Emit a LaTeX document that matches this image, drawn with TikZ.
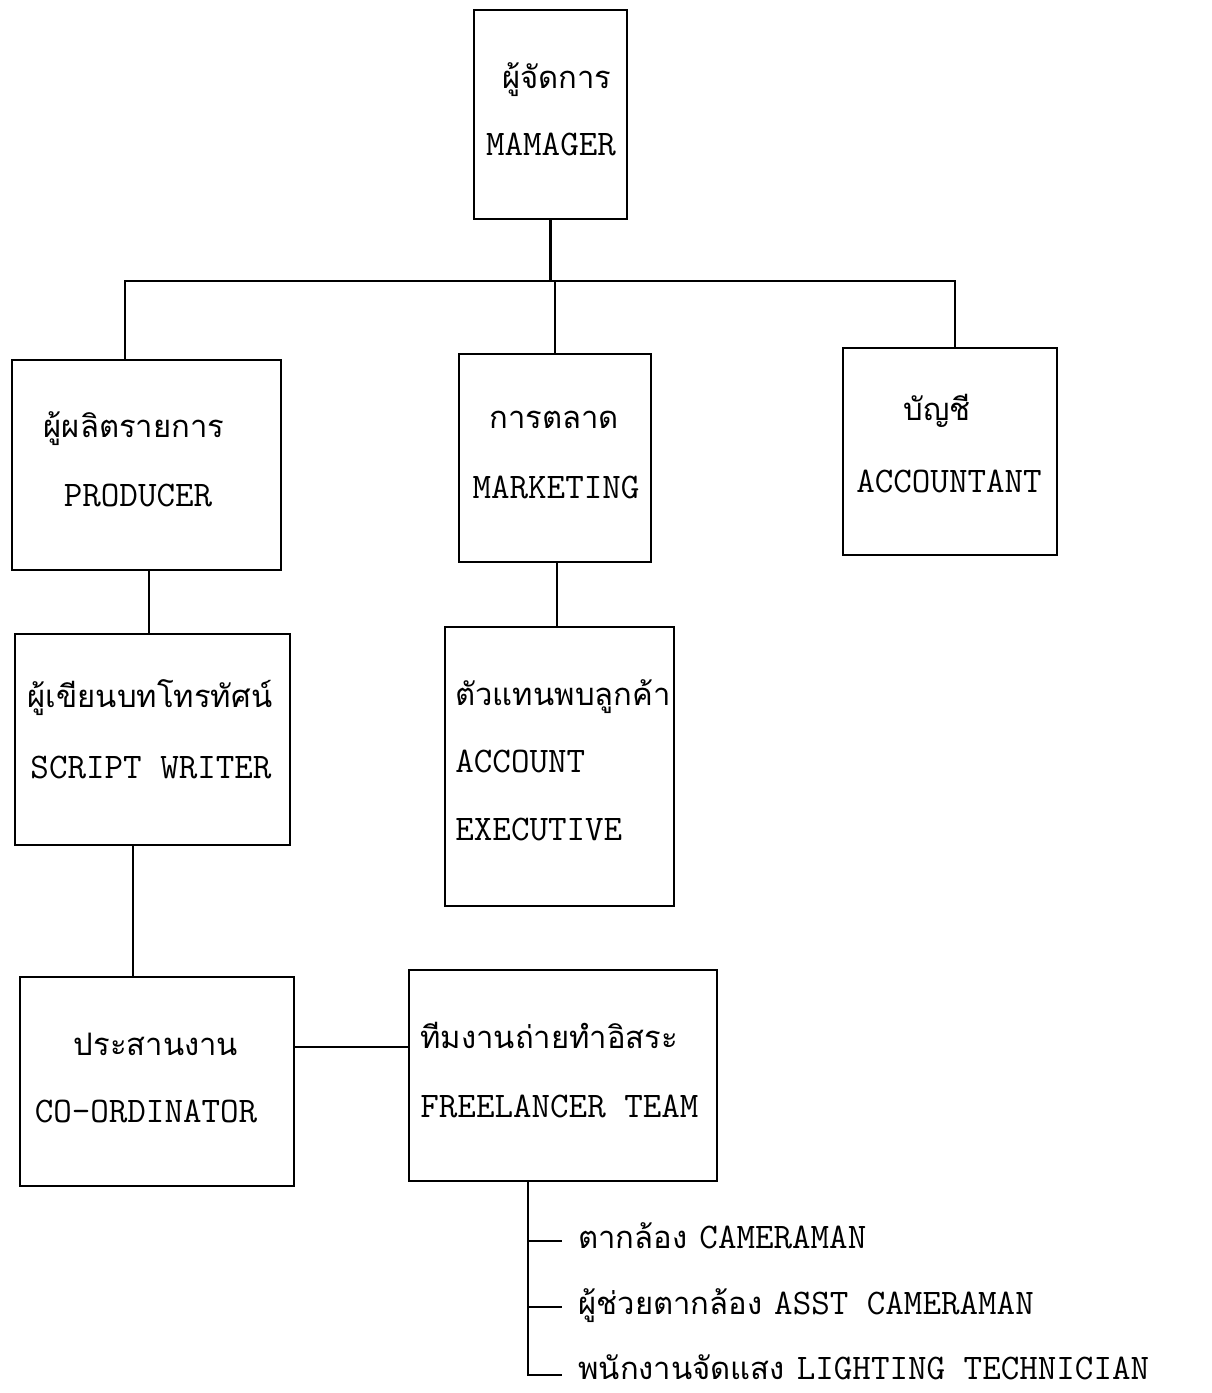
\documentclass[tikz,border=0pt]{standalone}
\usepackage{fontspec}
\newfontfamily\thai[Script=Thai]{Loma}
\newcommand\thfnt{\thai\fontsize{15.5}{18}\selectfont}
\newcommand\enfnt{\ttfamily\fontsize{18}{20}\selectfont}
\begin{document}
\begin{tikzpicture}[x=0.5pt,y=-0.5pt,
  box/.style={draw, line width=1.4pt, inner sep=0pt},
  ln/.style={line width=1.4pt},
  th/.style={font=\thfnt, inner sep=0pt},
  en/.style={font=\enfnt, inner sep=0pt},
  mix/.style={inner sep=0pt, anchor=base west}]
\useasboundingbox (0,0) rectangle (1211,1393);
% boxes
\node[box, minimum width=76.5pt, minimum height=104.5pt] (mgr) at (550.5,114.5) {};
\node[box, minimum width=134.5pt, minimum height=105pt] (prod) at (146.5,465) {};
\node[box, minimum width=96pt, minimum height=104pt] (mkt) at (555,458) {};
\node[box, minimum width=107pt, minimum height=103.5pt] (acct) at (950,451.5) {};
\node[box, minimum width=137.5pt, minimum height=105.5pt] (script) at (152.5,739.5) {};
\node[box, minimum width=114.5pt, minimum height=139.5pt] (ae) at (559.5,766.5) {};
\node[box, minimum width=137pt, minimum height=104.5pt] (coord) at (157,1081.5) {};
\node[box, minimum width=154pt, minimum height=105.5pt] (free) at (563,1075.5) {};
% texts
\node[th, anchor=base] (t1) at (557,88) {ผู้จัดการ};
\node[en, anchor=base] (t2) at (551,155) {MAMAGER};
\node[th, anchor=base] (t3) at (134,437) {ผู้ผลิตรายการ};
\node[en, anchor=base] (t4) at (138,506) {PRODUCER};
\node[th, anchor=base] (t5) at (554,428) {การตลาด};
\node[en, anchor=base] (t6) at (556,498) {MARKETING};
\node[th, anchor=base] (t7) at (937,420) {บัญชี};
\node[en, anchor=base] (t8) at (949,492) {ACCOUNTANT};
\node[th, anchor=base] (t9) at (150,707) {ผู้เขียนบทโทรทัศน์};
\node[en, anchor=base] (t10) at (151,778) {SCRIPT WRITER};
\node[th, anchor=base west] (t11) at (455,705) {ตัวแทนพบลูกค้า};
\node[en, anchor=base west] (t12) at (455,772) {ACCOUNT};
\node[en, anchor=base west] (t13) at (455,840) {EXECUTIVE};
\node[th, anchor=base] (t14) at (156,1055) {ประสานงาน};
\node[en, anchor=base] (t15) at (146,1122) {CO-ORDINATOR};
\node[th, anchor=base west] (t16) at (420,1048) {ทีมงานถ่ายทำอิสระ};
\node[en, anchor=base west] (t17) at (420,1117) {FREELANCER TEAM};
\node[mix] (l1) at (578,1248) {{\thfnt ตากล้อง}\hspace{6pt}{\enfnt CAMERAMAN}};
\node[mix] (l2) at (578,1314) {{\thfnt ผู้ช่วยตากล้อง}\hspace{6pt}{\enfnt ASST CAMERAMAN}};
\node[mix] (l3) at (578,1379) {{\thfnt พนักงานจัดแสง}\hspace{6pt}{\enfnt LIGHTING TECHNICIAN}};
% connectors
\coordinate (busL) at (125,281);
\coordinate (busR) at (955,281);
\draw[ln] (mgr.south) -- (mgr.south |- busL);
\draw[ln] (busL |- prod.north) -- (busL) -- (busR) -- (busR |- acct.north);
\draw[ln] (mkt.north) -- (mkt.north |- busL);
\coordinate (v1) at (149,0);
\draw[ln] (prod.south -| v1) -- (script.north -| v1);
\coordinate (v2) at (133,0);
\draw[ln] (script.south -| v2) -- (coord.north -| v2);
\coordinate (v3) at (557,0);
\draw[ln] (mkt.south -| v3) -- (ae.north -| v3);
\coordinate (h1) at (0,1047);
\draw[ln] (coord.east |- h1) -- (free.west |- h1);
\coordinate (b1) at (528,1241);
\coordinate (b2) at (528,1307);
\coordinate (b3) at (528,1375);
\coordinate (e1) at (562,1241);
\coordinate (e2) at (562,1307);
\coordinate (e3) at (562,1375);
\draw[ln] (free.south -| b3) -- (b3) -- (e3);
\draw[ln] (b1) -- (e1);
\draw[ln] (b2) -- (e2);
\end{tikzpicture}
\end{document}
